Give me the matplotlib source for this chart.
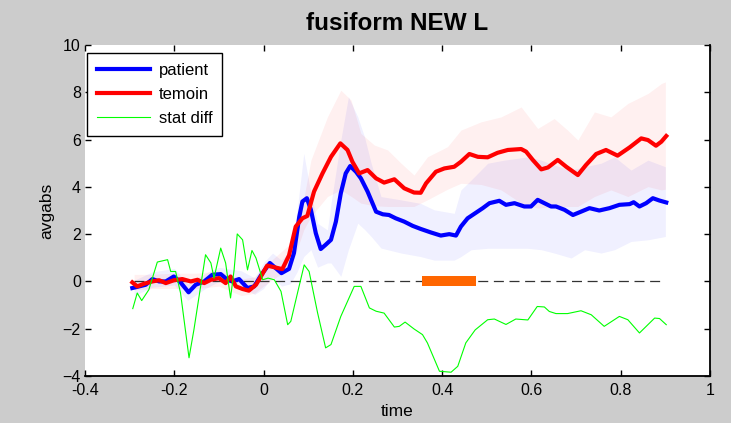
import matplotlib
matplotlib.use("Agg")
import matplotlib.pyplot as plt

plt.rcParams['font.family'] = ['Liberation Sans', 'DejaVu Sans']

# ---------------- data ----------------
patient_t = [-0.294, -0.279, -0.264, -0.249, -0.234, -0.219, -0.201, -0.186, -0.168, -0.152,
             -0.133, -0.115, -0.096, -0.081, -0.070, -0.055, -0.036, -0.021, -0.006, 0.014,
             0.040, 0.057, 0.068, 0.080, 0.087, 0.097, 0.106, 0.117, 0.128, 0.139,
             0.151, 0.162, 0.173, 0.184, 0.194, 0.207, 0.218, 0.233, 0.252, 0.267,
             0.281, 0.296, 0.315, 0.334, 0.352, 0.375, 0.397, 0.416, 0.431, 0.442,
             0.457, 0.476, 0.491, 0.506, 0.528, 0.543, 0.562, 0.584, 0.599, 0.614,
             0.629, 0.644, 0.655, 0.674, 0.693, 0.711, 0.730, 0.752, 0.775, 0.797,
             0.820, 0.829, 0.842, 0.857, 0.872, 0.887, 0.902]
patient_v = [-0.28, -0.21, -0.14, 0.10, 0.0, 0.0, 0.21, -0.04, -0.46, -0.14,
             0.0, 0.28, 0.31, 0.07, 0.0, 0.10, -0.28, -0.21, 0.25, 0.78,
             0.35, 0.53, 1.2, 2.74, 3.38, 3.52, 3.03, 2.04, 1.37, 1.55,
             1.76, 2.53, 3.73, 4.57, 4.88, 4.64, 4.36, 3.80, 2.95, 2.84,
             2.81, 2.67, 2.53, 2.35, 2.22, 2.07, 1.94, 2.0, 1.94, 2.32,
             2.67, 2.91, 3.10, 3.31, 3.41, 3.24, 3.31, 3.17, 3.17, 3.45,
             3.31, 3.17, 3.17, 3.03, 2.81, 2.95, 3.10, 3.00, 3.10, 3.24,
             3.27, 3.35, 3.17, 3.31, 3.52, 3.42, 3.34]

temoin_t = [-0.294, -0.283, -0.268, -0.249, -0.234, -0.219, -0.201, -0.182, -0.163, -0.148,
            -0.133, -0.118, -0.100, -0.085, -0.074, -0.062, -0.047, -0.033, -0.017, -0.006,
            0.008, 0.024, 0.042, 0.057, 0.072, 0.087, 0.098, 0.113, 0.132, 0.151,
            0.172, 0.188, 0.199, 0.214, 0.233, 0.252, 0.270, 0.293, 0.315, 0.337,
            0.352, 0.364, 0.386, 0.405, 0.427, 0.442, 0.461, 0.480, 0.502, 0.524,
            0.547, 0.577, 0.588, 0.603, 0.622, 0.637, 0.659, 0.678, 0.704, 0.722,
            0.745, 0.767, 0.793, 0.820, 0.846, 0.861, 0.879, 0.891, 0.902]
temoin_v = [-0.04, -0.21, -0.10, 0.0, 0.05, -0.07, 0.05, 0.10, 0.0, 0.07,
            -0.07, 0.07, 0.14, -0.07, 0.21, -0.21, -0.32, -0.39, -0.14, 0.21,
            0.67, 0.60, 0.52, 1.1, 2.32, 2.67, 2.77, 3.80, 4.57, 5.27,
            5.84, 5.56, 5.06, 4.57, 4.71, 4.36, 4.18, 4.32, 3.94, 3.76,
            3.75, 4.15, 4.64, 4.78, 4.85, 5.06, 5.39, 5.27, 5.25, 5.44,
            5.56, 5.60, 5.49, 5.14, 4.74, 4.82, 5.14, 4.85, 4.50, 4.92,
            5.39, 5.56, 5.32, 5.67, 6.05, 5.98, 5.74, 5.91, 6.15]

stat_t = [-0.293, -0.283, -0.273, -0.257, -0.238, -0.215, -0.208, -0.197, -0.186, -0.167,
          -0.156, -0.141, -0.130, -0.118, -0.111, -0.096, -0.085, -0.074, -0.066, -0.059,
          -0.047, -0.036, -0.026, -0.017, -0.002, 0.010, 0.024, 0.039, 0.054, 0.061,
          0.076, 0.091, 0.102, 0.121, 0.139, 0.151, 0.173, 0.203, 0.218, 0.237,
          0.252, 0.270, 0.293, 0.304, 0.317, 0.337, 0.356, 0.367, 0.394, 0.420,
          0.435, 0.453, 0.474, 0.502, 0.517, 0.543, 0.565, 0.592, 0.613, 0.629,
          0.640, 0.655, 0.681, 0.711, 0.734, 0.763, 0.797, 0.816, 0.842, 0.876,
          0.887, 0.902]
stat_v = [-1.15, -0.49, -0.81, -0.35, 0.82, 0.92, 0.42, 0.42, -0.49, -3.23,
          -2.04, -0.21, 1.13, 0.78, 0.14, 1.41, 0.78, -0.70, 0.49, 2.01,
          1.76, 0.49, 1.31, 0.99, 0.07, 0.14, 0.07, -0.42, -1.83, -1.69,
          -0.49, 0.70, 0.42, -1.33, -2.81, -2.67, -1.48, -0.21, -0.21, -1.12,
          -1.26, -1.34, -1.93, -1.90, -1.72, -2.01, -2.25, -2.60, -3.80, -3.84,
          -3.59, -2.60, -2.05, -1.62, -1.59, -1.82, -1.59, -1.63, -1.06, -1.08,
          -1.27, -1.36, -1.36, -1.24, -1.41, -1.90, -1.48, -1.62, -2.18, -1.55,
          -1.57, -1.83]

patient_band_t = [-0.29, -0.25, -0.2, -0.17, -0.13, -0.1, -0.05, -0.02, 0.0, 0.02,
                  0.04, 0.06, 0.075, 0.09, 0.106, 0.121, 0.143, 0.151, 0.173, 0.19,
                  0.211, 0.226, 0.241, 0.263, 0.308, 0.352, 0.382, 0.427, 0.442, 0.465,
                  0.502, 0.539, 0.592, 0.622, 0.651, 0.689, 0.719, 0.756, 0.786, 0.823,
                  0.861, 0.90]
patient_upper = [0.05, 0.4, 0.55, -0.1, 0.35, 0.6, 0.45, 0.15, 0.8, 1.2,
                 0.9, 1.3, 3.0, 5.42, 3.73, 2.46, 2.18, 3.3, 5.98, 7.81,
                 6.96, 6.12, 5.0, 3.59, 3.45, 3.3, 3.03, 2.88, 3.87, 4.29,
                 5.0, 5.13, 5.27, 5.13, 4.92, 4.71, 4.85, 5.0, 5.27, 4.71,
                 5.13, 4.85]
patient_lower = [-0.6, -0.25, -0.15, -0.8, -0.3, 0.0, -0.2, -0.55, -0.3, 0.2,
                 -0.2, -0.1, 0.4, 1.05, 1.34, 0.6, 0.78, 0.78, 0.21, 1.34,
                 2.46, 2.2, 1.9, 1.41, 1.2, 1.05, 0.9, 0.9, 1.05, 1.34,
                 1.4, 1.4, 1.4, 1.34, 1.2, 0.99, 1.34, 1.2, 1.34, 1.69,
                 1.76, 1.9]

temoin_band_t = [-0.29, -0.25, -0.2, -0.15, -0.1, -0.05, -0.02, 0.0, 0.03, 0.06,
                 0.09, 0.106, 0.143, 0.173, 0.196, 0.218, 0.248, 0.278, 0.308, 0.337,
                 0.367, 0.412, 0.442, 0.487, 0.532, 0.577, 0.614, 0.651, 0.681, 0.704,
                 0.741, 0.778, 0.816, 0.861, 0.891, 0.90]
temoin_upper = [0.3, 0.3, 0.35, 0.35, 0.45, 0.1, 0.2, 0.6, 1.1, 1.6,
                3.5, 5.13, 6.96, 8.09, 7.67, 6.26, 5.77, 5.56, 5.0, 4.5,
                5.27, 5.70, 6.4, 6.75, 6.96, 7.38, 6.47, 6.89, 6.4, 5.98,
                7.17, 6.96, 7.53, 7.95, 8.37, 8.44]
temoin_lower = [-0.35, -0.3, -0.3, -0.3, -0.2, -0.6, -0.5, -0.2, 0.2, 0.5,
                2.18, 2.74, 3.59, 3.87, 3.6, 3.31, 3.2, 3.17, 3.17, 3.17,
                3.45, 3.9, 4.15, 4.1, 3.87, 3.31, 3.10, 3.17, 3.17, 3.17,
                3.59, 3.87, 3.59, 4.01, 3.87, 3.9]

baseline_t = [-0.29, 0.90]
baseline_v = [0, 0]
signif_t = [0.355, 0.476]
signif_v = [0, 0]

xticks = [-0.4, -0.2, 0, 0.2, 0.4, 0.6, 0.8, 1]
xticklabels = ['-0.4', '-0.2', '0', '0.2', '0.4', '0.6', '0.8', '1']
yticks = [-4, -2, 0, 2, 4, 6, 8, 10]

# ---------------- figure ----------------
W, H = 731, 423
fig = plt.figure(figsize=(W / 100, H / 100), dpi=100, facecolor='#cccccc')
ax = fig.add_axes([85 / W, 1 - 376 / H, 625 / W, 331 / H])
ax.set_facecolor('white')

ax.fill_between(patient_band_t, patient_lower, patient_upper, color=(0, 0, 1),
                alpha=0.06, linewidth=0)
ax.fill_between(temoin_band_t, temoin_lower, temoin_upper, color=(1, 0, 0),
                alpha=0.06, linewidth=0)

ax.plot(baseline_t, baseline_v, color='#333333', lw=0.9, dashes=(8, 4.5))
ax.plot(patient_t, patient_v, color='#0000ff', lw=3.0, label='patient')
ax.plot(temoin_t, temoin_v, color='#ff0000', lw=3.0, label='temoin')
ax.plot(stat_t, stat_v, color='#00ff00', lw=0.8, label='stat diff')
ax.plot(signif_t, signif_v, color='#ff6600', lw=7.2, solid_capstyle='butt')

ax.set_xlim(-0.4, 1)
ax.set_ylim(-4, 10)
ax.set_xticks(xticks)
ax.set_xticklabels(xticklabels)
ax.set_yticks(yticks)
ax.tick_params(direction='in', length=4, width=1, top=True, right=True,
               labelsize=11.5, colors='black', pad=5)
ax.tick_params(axis='y', pad=3)
for side in ['top', 'left']:
    ax.spines[side].set_visible(False)
for side in ['bottom', 'right']:
    ax.spines[side].set_linewidth(1.3)

ax.set_title('fusiform NEW L', fontsize=17.5, fontweight='bold', pad=11)
ax.set_xlabel('time', fontsize=12.5, labelpad=4)
ax.set_ylabel('avgabs', fontsize=12.5, labelpad=6)

leg = ax.legend(loc='upper left', bbox_to_anchor=(0.003, 0.976), borderaxespad=0,
                fontsize=12, handlelength=3.2, handletextpad=0.5,
                labelspacing=0.55, fancybox=False, framealpha=1,
                edgecolor='black', borderpad=0.6)
leg.get_frame().set_linewidth(1.0)

fig.savefig('out.png', dpi=100, facecolor=fig.get_facecolor())
